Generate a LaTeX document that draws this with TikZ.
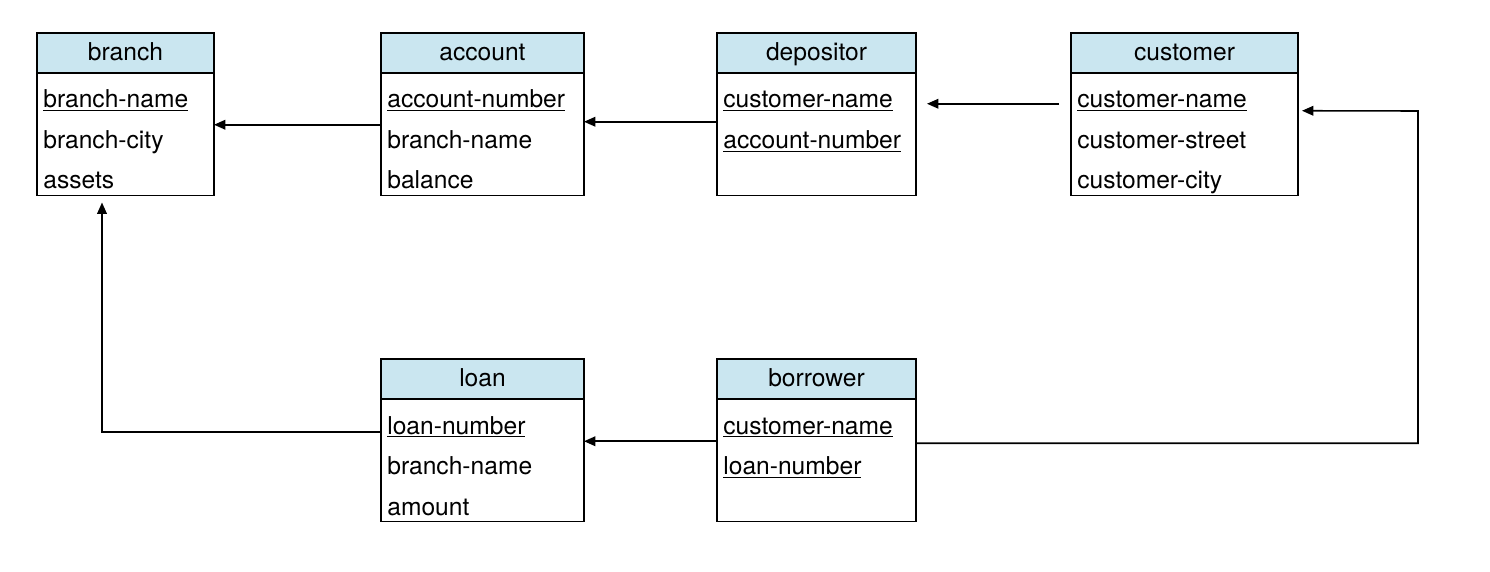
\documentclass[tikz,border=0pt]{standalone}
\usepackage{fontspec}
\setmainfont{TeX Gyre Heros}
\usetikzlibrary{arrows.meta,calc}
\definecolor{celeste}{RGB}{202,230,240}

\tikzset{
  testata/.style={draw, fill=celeste, line width=1.1pt, anchor=north west,
    minimum height=0.8cm, inner sep=0pt, outer sep=0pt, text height=10.5pt, text depth=1.5pt,
    font=\fontsize{14}{17}\selectfont},
  corpo/.style={draw, line width=1.1pt, anchor=north, minimum height=2.45cm,
    inner sep=0pt, outer sep=0pt},
  campo/.style={anchor=base west, inner sep=0pt, font=\fontsize{14}{17}\selectfont},
  freccia/.style={->, line width=0.9pt},
}

\begin{document}
\begin{tikzpicture}[>={Triangle[length=6.5pt,width=5.5pt]}]
    % --- Impostazioni ---
    \def\hcampo{0.81} % distanza tra le righe
    \def\primo{0.70}  % prima riga sotto la testata
    \def\rientro{0.12} % rientro del testo

    \useasboundingbox (0,0) rectangle (29.8,-11.44);

    % --- Tabella branch ---
    \node[testata, minimum width=3.54cm] (branch) at (0.74,-0.66) {branch};
    \node[corpo, minimum width=3.54cm] (branch-b) at (branch.south) {};
    \foreach \c [count=\i] in {\underline{branch-name}, branch-city, assets}
        \node[campo] (branch-\i) at ($(branch-b.north west)+(\rientro,{-\primo-\hcampo*(\i-1)})$) {\c};

    % --- Tabella account ---
    \node[testata, minimum width=4.06cm] (account) at (7.62,-0.66) {account};
    \node[corpo, minimum width=4.06cm] (account-b) at (account.south) {};
    \foreach \c [count=\i] in {\underline{account-number}, branch-name, balance}
        \node[campo] (account-\i) at ($(account-b.north west)+(\rientro,{-\primo-\hcampo*(\i-1)})$) {\c};

    % --- Tabella depositor ---
    \node[testata, minimum width=3.98cm] (depositor) at (14.34,-0.66) {depositor};
    \node[corpo, minimum width=3.98cm] (depositor-b) at (depositor.south) {};
    \foreach \c [count=\i] in {\underline{customer-name}, \underline{account-number}}
        \node[campo] (depositor-\i) at ($(depositor-b.north west)+(\rientro,{-\primo-\hcampo*(\i-1)})$) {\c};

    % --- Tabella customer ---
    \node[testata, minimum width=4.54cm] (customer) at (21.42,-0.66) {customer};
    \node[corpo, minimum width=4.54cm] (customer-b) at (customer.south) {};
    \foreach \c [count=\i] in {\underline{customer-name}, customer-street, customer-city}
        \node[campo] (customer-\i) at ($(customer-b.north west)+(\rientro,{-\primo-\hcampo*(\i-1)})$) {\c};

    % --- Tabella loan ---
    \node[testata, minimum width=4.06cm] (loan) at (7.62,-7.18) {loan};
    \node[corpo, minimum width=4.06cm] (loan-b) at (loan.south) {};
    \foreach \c [count=\i] in {\underline{loan-number}, branch-name, amount}
        \node[campo] (loan-\i) at ($(loan-b.north west)+(\rientro,{-\primo-\hcampo*(\i-1)})$) {\c};

    % --- Tabella borrower ---
    \node[testata, minimum width=3.98cm] (borrower) at (14.34,-7.18) {borrower};
    \node[corpo, minimum width=3.98cm] (borrower-b) at (borrower.south) {};
    \foreach \c [count=\i] in {\underline{customer-name}, \underline{loan-number}}
        \node[campo] (borrower-\i) at ($(borrower-b.north west)+(\rientro,{-\primo-\hcampo*(\i-1)})$) {\c};

    % --- Chiavi esterne ---
    \draw[freccia] ([yshift=0.19cm]account-b.west) -- ([yshift=0.19cm]branch-b.east);
    \draw[freccia] ([yshift=0.25cm]depositor-b.west) -- ([yshift=0.25cm]account-b.east);
    \draw[freccia] ([xshift=-0.24cm,yshift=0.61cm]customer-b.west)
        -- ([xshift=0.22cm,yshift=0.61cm]depositor-b.east);
    \draw[freccia] ([yshift=0.38cm]borrower-b.west) -- ([yshift=0.38cm]loan-b.east);

    % borrower -> customer (giro a destra)
    \coordinate (giro) at (28.36,-2.22);
    \draw[freccia] ([yshift=0.34cm]borrower-b.east) -| (giro)
        -- ([xshift=0.08cm,yshift=0.47cm]customer-b.east);

    % loan -> branch (giro a sinistra)
    \draw[freccia] ([yshift=0.56cm]loan-b.west) -| ([xshift=-0.47cm,yshift=-0.14cm]branch-b.south);
\end{tikzpicture}
\end{document}
